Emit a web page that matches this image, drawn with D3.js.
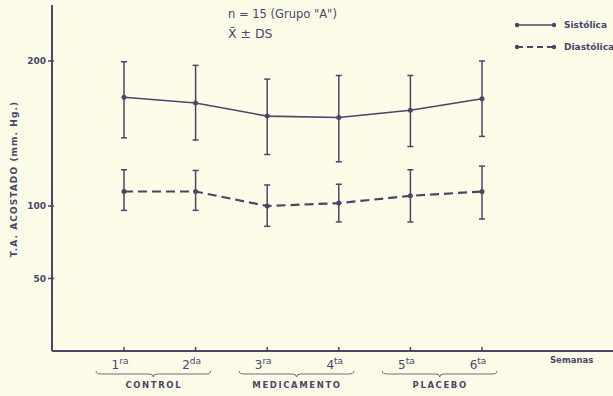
<!DOCTYPE html>
<html>
<head>
<meta charset="utf-8">
<script src="https://cdn.jsdelivr.net/npm/d3@7"></script>
<style>
  body { margin: 0; background: #fdfce9; }
  svg { display: block; }
  text { font-family: "DejaVu Sans", sans-serif; fill: #4a4668; }
</style>
</head>
<body>
<svg id="chart"></svg>
<script>
var w = 613; // Width of the SVG element
var h = 396; // Height of the SVG element
var ink = "#4a4668";

// Data
var weeks = ["1", "2", "3", "4", "5", "6"];
var weekSup = ["ra", "da", "ra", "ta", "ta", "ta"];
var sysMean = [175, 171, 162, 161, 166, 174];
var sysLow = [147, 145.5, 135.5, 130.5, 141, 148];
var sysHigh = [199.5, 197, 187.5, 190, 190, 200];
var diaMean = [110, 110, 100, 102, 107, 110];
var diaLow = [97, 97, 86, 89, 89, 91];
var diaHigh = [125, 124.5, 114.5, 115, 125, 127.5];
var yTicks = [50, 100, 200];
var phases = [
  { label: "CONTROL", from: "1", to: "2" },
  { label: "MEDICAMENTO", from: "3", to: "4" },
  { label: "PLACEBO", from: "5", to: "6" }
];

var svg = d3.select("#chart").attr("width", w).attr("height", h);

// Scales
var xScale = d3.scalePoint()
  .domain(weeks)
  .range([124, 482]);

var yScale = d3.scaleLinear()
  .domain([0, 200])
  .range([351, 61]);

var axisX = 52;
var axisY = 351;

// Axes lines
svg.append("line")
  .attr("x1", axisX).attr("x2", axisX)
  .attr("y1", 5).attr("y2", axisY)
  .attr("stroke", ink).attr("stroke-width", 2);

svg.append("line")
  .attr("x1", axisX).attr("x2", 613)
  .attr("y1", axisY).attr("y2", axisY)
  .attr("stroke", ink).attr("stroke-width", 2);

// y ticks
svg.selectAll(".ytick")
  .data(yTicks)
  .enter()
  .append("line")
  .attr("class", "ytick")
  .attr("x1", axisX - 4).attr("x2", axisX + 2)
  .attr("y1", d => yScale(d)).attr("y2", d => yScale(d))
  .attr("stroke", ink).attr("stroke-width", 1.5);

svg.selectAll(".ylab")
  .data(yTicks)
  .enter()
  .append("text")
  .attr("class", "ylab")
  .attr("x", axisX - 6)
  .attr("y", d => yScale(d))
  .attr("dy", "0.35em")
  .attr("text-anchor", "end")
  .style("font-size", "9px")
  .style("font-weight", "bold")
  .text(d => d);

// y label
svg.append("text")
  .attr("transform", "translate(17,179) rotate(-90)")
  .attr("text-anchor", "middle")
  .style("font-size", "9px")
  .style("font-weight", "bold")
  .style("letter-spacing", "1.1px")
  .text("T.A.  ACOSTADO   (mm. Hg.)");

// x ticks
svg.selectAll(".xtick")
  .data(weeks)
  .enter()
  .append("line")
  .attr("class", "xtick")
  .attr("x1", d => xScale(d)).attr("x2", d => xScale(d))
  .attr("y1", axisY - 4).attr("y2", axisY)
  .attr("stroke", ink).attr("stroke-width", 1.5);

var xl = svg.selectAll(".xlab")
  .data(weeks)
  .enter()
  .append("text")
  .attr("class", "xlab")
  .attr("x", d => xScale(d) - 4)
  .attr("y", 369)
  .attr("text-anchor", "middle")
  .style("font-size", "12px");
xl.append("tspan").text(d => d);
xl.append("tspan")
  .attr("dy", -5)
  .style("font-size", "9px")
  .text((d, i) => weekSup[i]);

svg.append("text")
  .attr("x", 550).attr("y", 363)
  .style("font-size", "8.5px")
  .style("font-weight", "bold")
  .text("Semanas");

// braces under the weeks
function bracePath(x1, x2, y) {
  var m = (x1 + x2) / 2;
  return "M" + x1 + "," + (y - 3) +
    " Q" + x1 + "," + y + " " + (x1 + 5) + "," + y +
    " L" + (m - 4) + "," + y +
    " Q" + m + "," + y + " " + m + "," + (y + 3) +
    " Q" + m + "," + y + " " + (m + 4) + "," + y +
    " L" + (x2 - 5) + "," + y +
    " Q" + x2 + "," + y + " " + x2 + "," + (y - 3);
}

svg.selectAll(".brace")
  .data(phases)
  .enter()
  .append("path")
  .attr("class", "brace")
  .attr("d", d => bracePath(xScale(d.from) - 28, xScale(d.to) + 15, 374))
  .attr("fill", "none")
  .attr("stroke", ink)
  .attr("stroke-width", 0.8);

svg.selectAll(".phase")
  .data(phases)
  .enter()
  .append("text")
  .attr("class", "phase")
  .attr("x", d => (xScale(d.from) + xScale(d.to)) / 2 - 6)
  .attr("y", 388)
  .attr("text-anchor", "middle")
  .style("font-size", "8.5px")
  .style("font-weight", "bold")
  .style("letter-spacing", "1.6px")
  .text(d => d.label);

// draw one series with error bars
function drawSeries(mean, low, high, dash) {
  var pts = weeks.map((wk, i) => ({ wk: wk, m: mean[i], lo: low[i], hi: high[i] }));

  var line = d3.line()
    .x(d => xScale(d.wk))
    .y(d => yScale(d.m));

  svg.append("path")
    .datum(pts)
    .attr("d", line)
    .attr("fill", "none")
    .attr("stroke", ink)
    .attr("stroke-width", dash ? 2.2 : 1.6)
    .attr("stroke-dasharray", dash ? "9 5" : null);

  var g = svg.append("g");
  g.selectAll(".err")
    .data(pts)
    .enter()
    .append("line")
    .attr("x1", d => xScale(d.wk)).attr("x2", d => xScale(d.wk))
    .attr("y1", d => yScale(d.lo)).attr("y2", d => yScale(d.hi))
    .attr("stroke", ink).attr("stroke-width", 1.5);

  g.selectAll(".capHi")
    .data(pts)
    .enter()
    .append("line")
    .attr("x1", d => xScale(d.wk) - 3).attr("x2", d => xScale(d.wk) + 3)
    .attr("y1", d => yScale(d.hi)).attr("y2", d => yScale(d.hi))
    .attr("stroke", ink).attr("stroke-width", 1.5);

  g.selectAll(".capLo")
    .data(pts)
    .enter()
    .append("line")
    .attr("x1", d => xScale(d.wk) - 3).attr("x2", d => xScale(d.wk) + 3)
    .attr("y1", d => yScale(d.lo)).attr("y2", d => yScale(d.lo))
    .attr("stroke", ink).attr("stroke-width", 1.5);

  g.selectAll("circle")
    .data(pts)
    .enter()
    .append("circle")
    .attr("cx", d => xScale(d.wk))
    .attr("cy", d => yScale(d.m))
    .attr("r", 2.5)
    .attr("fill", ink);
}

drawSeries(sysMean, sysLow, sysHigh, false);
drawSeries(diaMean, diaLow, diaHigh, true);

// Title
svg.append("text")
  .attr("x", 228).attr("y", 18)
  .style("font-size", "11.5px")
  .text("n = 15  (Grupo \"A\")");

svg.append("text")
  .attr("x", 228).attr("y", 38)
  .style("font-size", "12.5px")
  .text("X\u0304 \u00B1 DS");

// Legend
var legend = [
  { name: "Sistólica", y: 25, dash: false },
  { name: "Diastólica", y: 47, dash: true }
];
var lg = svg.selectAll(".legend")
  .data(legend)
  .enter()
  .append("g")
  .attr("class", "legend");

lg.append("line")
  .attr("x1", 517).attr("x2", 554)
  .attr("y1", d => d.y).attr("y2", d => d.y)
  .attr("stroke", ink)
  .attr("stroke-width", d => d.dash ? 2 : 1.5)
  .attr("stroke-dasharray", d => d.dash ? "6 4" : null);

lg.append("circle").attr("cx", 517).attr("cy", d => d.y).attr("r", 2.2).attr("fill", ink);
lg.append("circle").attr("cx", 554).attr("cy", d => d.y).attr("r", 2.2).attr("fill", ink);

lg.append("text")
  .attr("x", 564)
  .attr("y", d => d.y)
  .attr("dy", "0.35em")
  .style("font-size", "9px")
  .style("font-weight", "bold")
  .text(d => d.name);
</script>
</body>
</html>
